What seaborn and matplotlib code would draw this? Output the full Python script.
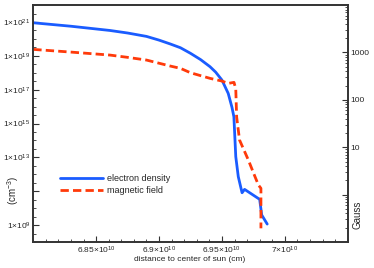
import numpy as np
import pandas as pd
import matplotlib
matplotlib.use("Agg")
import matplotlib.pyplot as plt
import matplotlib.ticker as mticker
from matplotlib.lines import Line2D
import seaborn as sns

# ---- data (x in units of 1e10 cm) ----
ne_x = [6.800, 6.830, 6.861, 6.875, 6.890, 6.900, 6.909, 6.917, 6.925, 6.933,
        6.9405, 6.945, 6.950, 6.955, 6.958, 6.9595, 6.961, 6.963, 6.966, 6.968,
        6.980, 6.9816, 6.986]
ne_log = [20.955, 20.75, 20.50, 20.35, 20.15, 19.93, 19.70, 19.48, 19.15, 18.78,
          18.36, 18.04, 17.57, 16.78, 15.95, 15.40, 13.04, 11.86, 10.91, 11.11,
          10.52, 9.60, 9.06]

b_x = [6.800, 6.830, 6.861, 6.875, 6.890, 6.909, 6.917, 6.925, 6.9405, 6.950,
       6.955, 6.9596, 6.961, 6.9617, 6.964, 6.971, 6.9763, 6.979, 6.981, 6.981]
b_log = [3.065, 3.008, 2.945, 2.897, 2.840, 2.713, 2.665, 2.572, 2.454, 2.397,
         2.348, 2.369, 2.228, 1.637, 1.152, 0.730, 0.378, 0.203, 0.133, -0.711]

x_ticks = [6.85, 6.90, 6.95, 7.00]
x_tick_labels = ["6.85", "6.9", "6.95", "7"]
left_label_exps = [9, 13, 15, 17, 19, 21]
right_ticks = [10, 100, 1000]
series_names = ["electron density", "magnetic field"]

ne_df = pd.DataFrame({"x": np.array(ne_x) * 1e10, "y": 10.0 ** np.array(ne_log)})
b_df = pd.DataFrame({"x": np.array(b_x) * 1e10, "y": 10.0 ** np.array(b_log)})

sns.set_style("ticks")
plt.rcParams["font.family"] = ["Liberation Sans", "DejaVu Sans"]
plt.rcParams["mathtext.fontset"] = "custom"
plt.rcParams["mathtext.rm"] = "Liberation Sans"
plt.rcParams["mathtext.it"] = "Liberation Sans:italic"

BLUE = "#1a5cff"
RED = "#ff3a0a"
SPINE = "#333333"
fs = 6
DASH = [3, 1.5]

fig = plt.figure(figsize=(3.74, 2.68), dpi=100)
ax = fig.add_axes([0.089, 0.097, 0.8407, 0.884])
ax2 = ax.twinx()

sns.lineplot(data=ne_df, x="x", y="y", ax=ax, sort=False, estimator=None,
             color=BLUE, linewidth=2.0, legend=False)
sns.lineplot(data=b_df, x="x", y="y", ax=ax2, sort=False, estimator=None,
             color=RED, linewidth=2.0, legend=False)
ax2.lines[0].set_dashes(DASH)

ax.set_xlim(6.80e10, 7.05e10)
ax.set_yscale("log")
ax.set_ylim(1e8, 1e22)
ax2.set_yscale("log")
ax2.set_ylim(0.1, 1e4)

# x ticks
ax.set_xticks([v * 1e10 for v in x_ticks])
ax.set_xticklabels([r"$\mathregular{%s{\times}10^{10}}$" % s for s in x_tick_labels], fontsize=fs)
ax.xaxis.set_minor_locator(mticker.MultipleLocator(0.01e10))

# left y ticks
ax.yaxis.set_major_locator(mticker.FixedLocator([10.0 ** e for e in range(9, 22, 2)]))
ax.yaxis.set_major_formatter(mticker.FuncFormatter(
    lambda v, p: (r"$\mathregular{1{\times}10^{%d}}$" % round(np.log10(v)))
    if round(np.log10(v)) in left_label_exps else ""))
ax.yaxis.set_minor_locator(mticker.FixedLocator([10.0 ** (e / 2) for e in range(16, 45)]))
ax.yaxis.set_minor_formatter(mticker.NullFormatter())
ax.tick_params(axis="y", labelsize=fs)

# right y ticks
ax2.yaxis.set_major_locator(mticker.FixedLocator([1, 10, 100, 1000]))
ax2.yaxis.set_major_formatter(mticker.FuncFormatter(
    lambda v, p: "%d" % v if v in right_ticks else ""))
ax2.yaxis.set_minor_locator(mticker.LogLocator(base=10, subs=np.arange(2, 10)))
ax2.yaxis.set_minor_formatter(mticker.NullFormatter())
ax2.tick_params(axis="y", labelsize=fs)

for a in (ax, ax2):
    a.tick_params(which="major", direction="in", length=4, width=0.8, color=SPINE, pad=2)
    a.tick_params(which="minor", direction="in", length=2, width=0.6, color=SPINE)
    for s in a.spines.values():
        s.set_color(SPINE)
        s.set_linewidth(1.2)
    a.set_xlabel("")
    a.set_ylabel("")
ax.tick_params(axis="x", which="both", top=False)

fig.text(0.508, 0.033, "distance to center of sun (cm)", fontsize=fs, ha="center", va="center")
fig.text(0.036, 0.29, r"(cm$^{\mathregular{-3}}$)", fontsize=fs + 1, rotation=90, ha="center", va="center")
fig.text(0.957, 0.2, "Gauss", fontsize=fs + 1, rotation=90, ha="center", va="center")

# legend
h1 = Line2D([], [], color=BLUE, linewidth=2.0)
h2 = Line2D([], [], color=RED, linewidth=2.0, dashes=DASH)
ax.legend([h1, h2], series_names, loc="upper left",
          bbox_to_anchor=(0.085, 0.285), frameon=False, fontsize=6.5,
          borderpad=0, borderaxespad=0,
          handlelength=4.8, handletextpad=0.4, labelspacing=0.3)

fig.savefig("out.png", dpi=100)
